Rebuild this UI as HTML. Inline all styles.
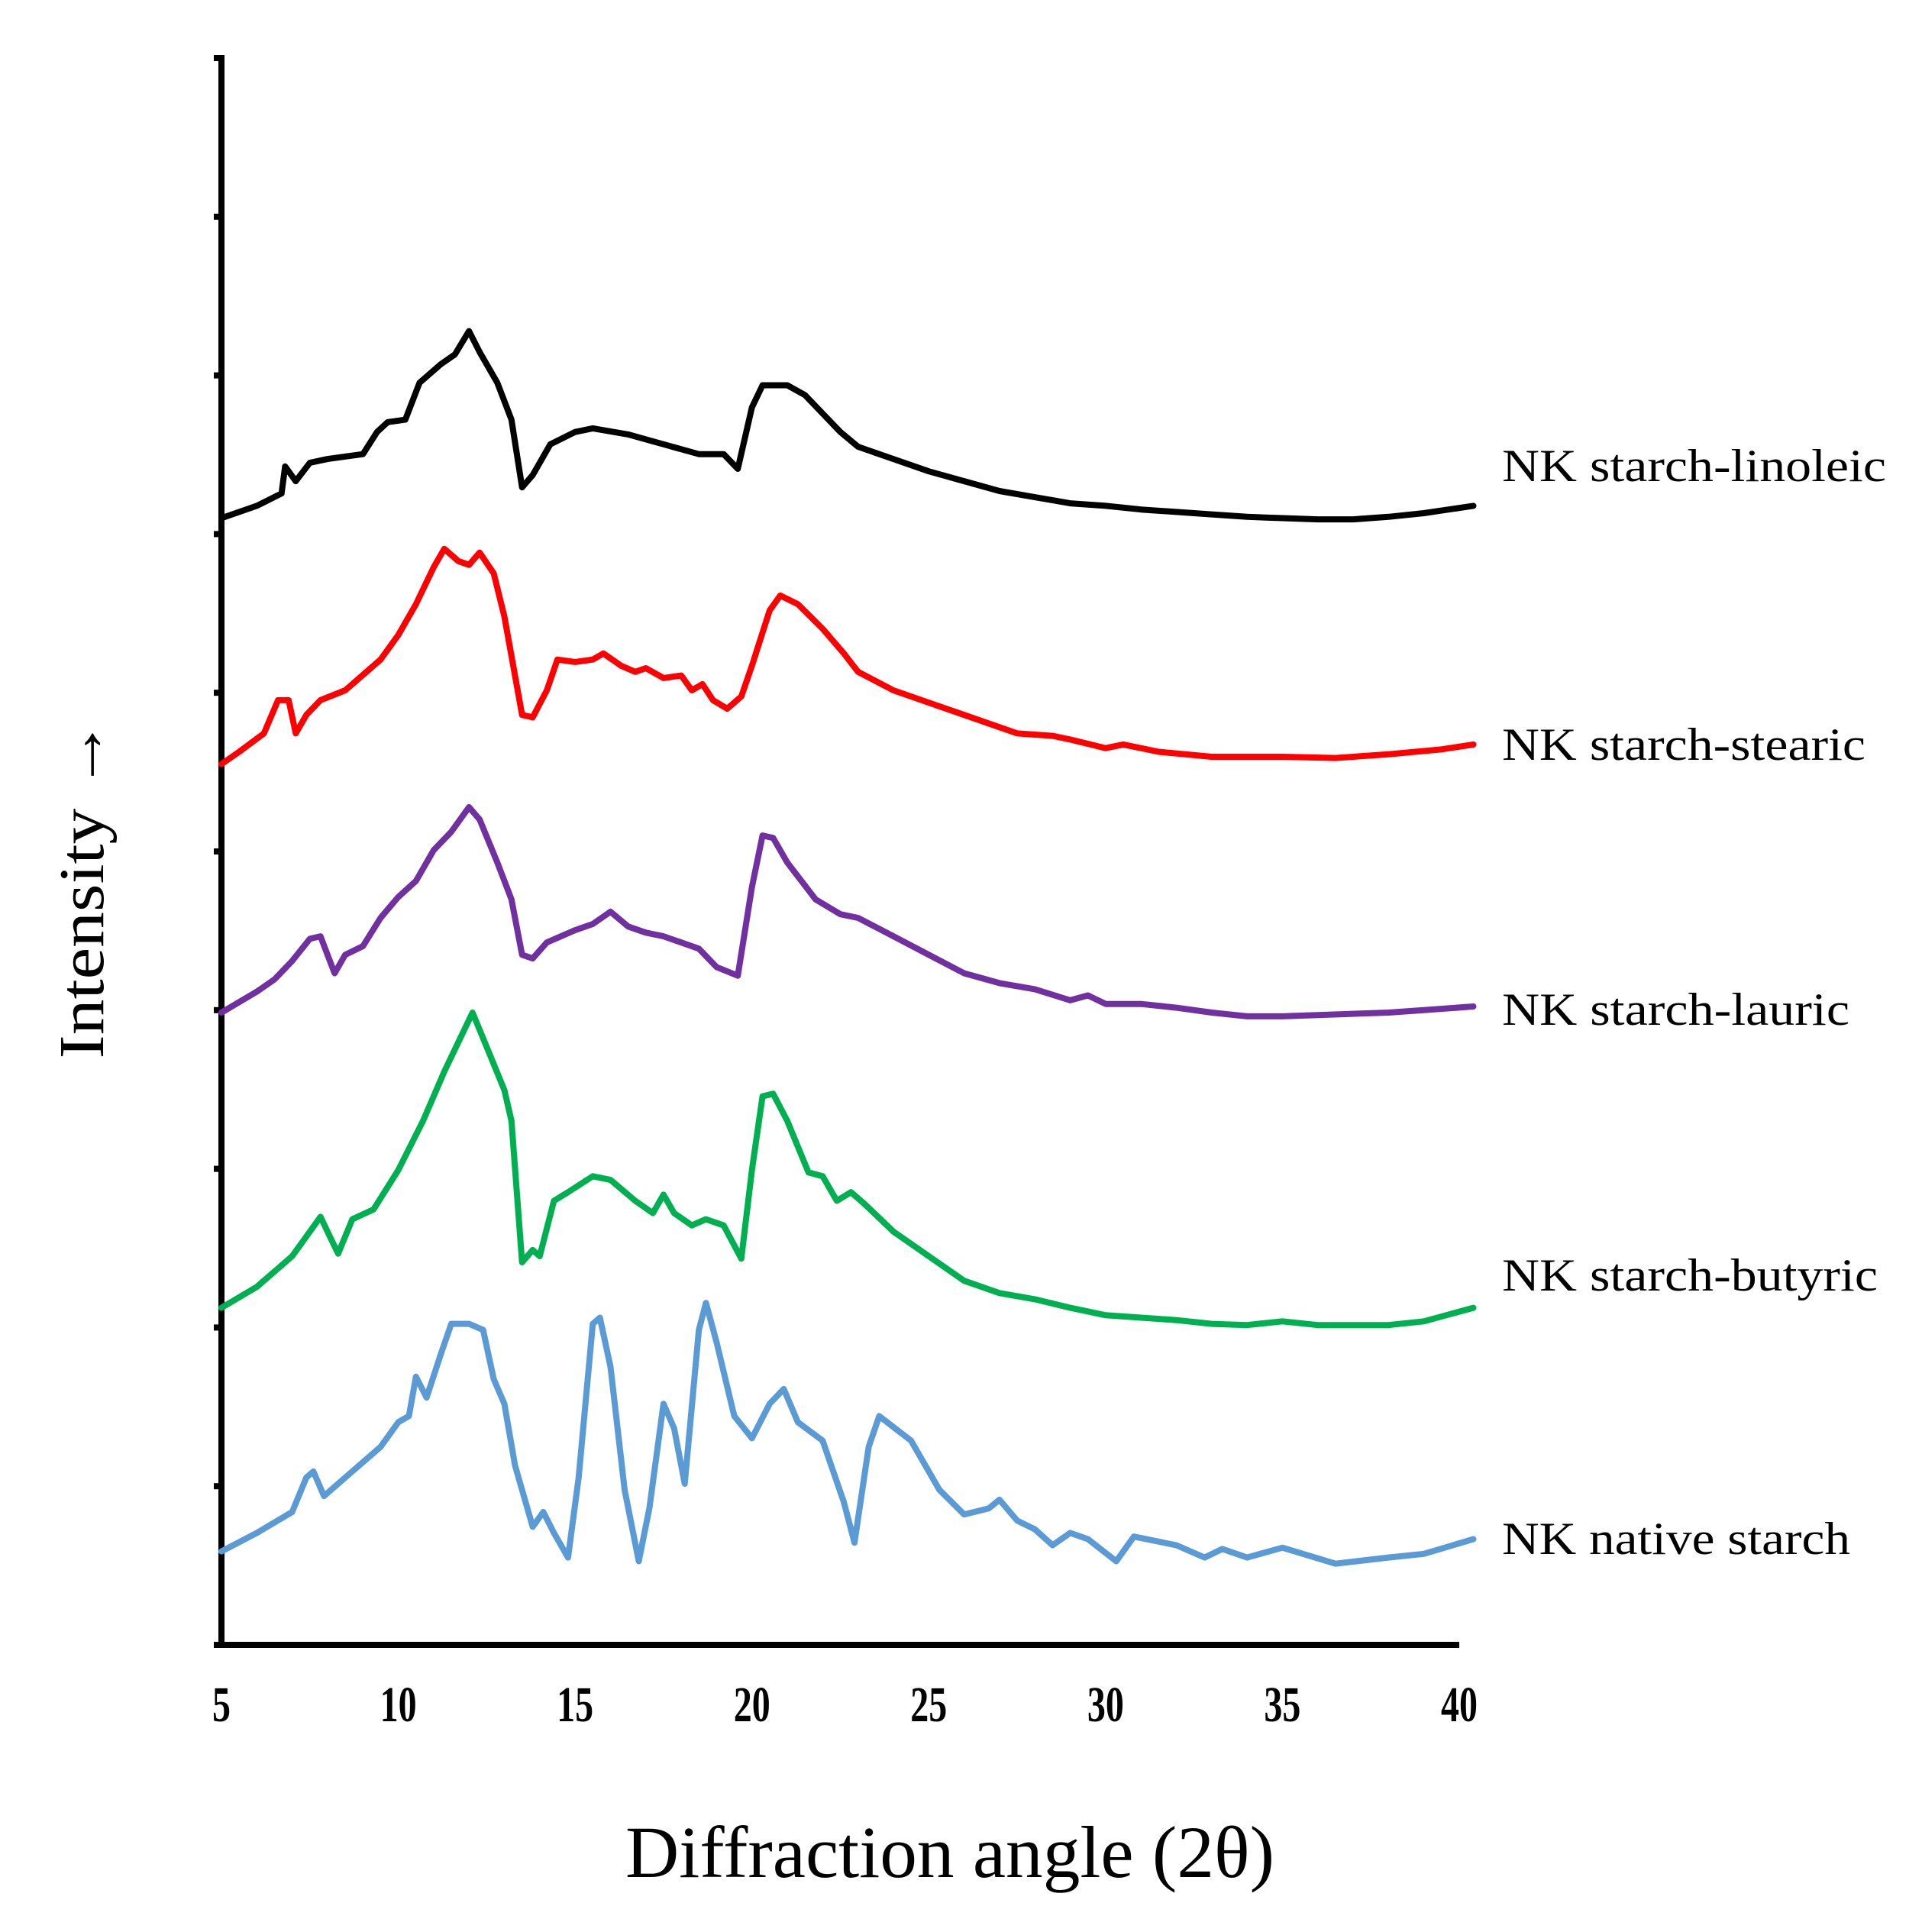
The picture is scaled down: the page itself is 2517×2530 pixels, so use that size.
<!DOCTYPE html>
<html><head><meta charset="utf-8"><style>html,body{margin:0;padding:0;background:#fff}svg{display:block}</style></head>
<body>
<svg id="chart" width="2517" height="2530" viewBox="0 0 2517 2530" xmlns="http://www.w3.org/2000/svg">
<rect width="2517" height="2530" fill="#fff"/>
<g id="axes"></g>
<g id="series"></g>
<g id="labels"></g>
<text transform="translate(135,1164) rotate(-90)" text-anchor="middle" font-family="Liberation Serif, serif" font-size="84" textLength="445" lengthAdjust="spacingAndGlyphs" fill="#000">Intensity →</text>
<text x="1244" y="2458" text-anchor="middle" font-family="Liberation Serif, serif" font-size="96" textLength="850" lengthAdjust="spacingAndGlyphs" fill="#000">Diffraction angle (2θ)</text>
</svg>
<script>
const xTicks = [5,10,15,20,25,30,35,40];
const yTickCount = 11;
const seriesNames = ["NK starch-linoleic","NK starch-stearic","NK starch-lauric","NK starch-butyric","NK native starch"];
const linoleicTheta = [5,6,6.7,6.8,7.1,7.5,8,9,9.4,9.7,10.2,10.6,11.2,11.6,12,12.3,12.8,13.2,13.5,13.8,14.3,15,15.5,16.5,17.5,18.5,19.2,19.6,20,20.3,21,21.5,22,22.5,23,24,25,26,27,28,29,30,31,32,33,34,35,36,37,38,39,40.4];
const linoleicVal = [916,926,936,958,946,961,964,968,986,994,996,1026,1041,1049,1068,1051,1026,996,941,951,976,986,989,984,976,968,968,956,1006,1024,1024,1016,1001,986,974,964,954,946,938,933,928,926,923,921,919,917,916,915,915,917,920,926];
const stearicTheta = [5,5.5,6.2,6.6,6.9,7.1,7.4,7.8,8.5,9.5,10,10.5,11,11.3,11.7,12,12.3,12.7,13,13.5,13.8,14.2,14.5,15,15.5,15.8,16.3,16.7,17,17.5,18,18.3,18.6,18.9,19.3,19.7,20,20.5,20.8,21.3,22,22.6,23,24,25,26,27,27.5,28.5,29,30,30.5,31.5,33,35,36.5,38,39.5,40.4];
const stearicVal = [716,726,741,768,768,741,756,768,776,801,821,846,876,891,881,878,888,871,836,756,754,776,801,799,801,806,796,791,794,786,788,776,781,768,761,771,796,841,853,846,826,806,791,776,766,756,746,741,739,736,729,732,726,722,722,721,724,728,732];
const lauricTheta = [5,6,6.5,7,7.5,7.8,8,8.2,8.5,9,9.5,10,10.5,11,11.5,12,12.3,12.8,13.2,13.5,13.8,14.2,15,15.5,16,16.5,17,17.5,18,18.5,19,19.6,20,20.3,20.6,21,21.8,22.5,23,24,25,26,27,28,29,29.5,30,31,32,33,34,35,36,37,38,39,40.4];
const lauricVal = [514,531,541,556,574,576,561,546,561,568,591,608,621,646,661,681,671,636,606,561,558,571,581,586,596,584,579,576,571,566,551,544,616,658,656,636,606,594,591,576,561,546,538,533,524,528,521,521,518,514,511,511,512,513,514,516,519];
const butyricTheta = [5,6,7,7.5,7.8,8,8.3,8.7,9.3,10,10.7,11.3,11.8,12.1,12.5,13,13.2,13.5,13.8,14,14.4,14.8,15.5,16,16.7,17.2,17.5,17.8,18.3,18.7,19.2,19.7,20,20.3,20.6,21,21.6,22,22.4,22.8,23.2,24,25,26,27,28,29,30,31,32,33,34,35,36,38,39,40.4];
const butyricVal = [274,291,316,336,348,336,318,346,354,386,426,466,496,514,486,451,426,311,321,316,361,368,381,378,361,351,366,351,341,346,341,314,386,446,448,426,384,381,361,368,358,336,316,296,286,281,274,268,266,264,261,260,263,260,260,263,274];
const nativeTheta = [5,6,7,7.4,7.6,7.9,8.5,9.5,10,10.3,10.5,10.8,11.2,11.5,12,12.4,12.7,13,13.3,13.8,14.1,14.4,14.8,15.1,15.5,15.7,16,16.4,16.8,17.1,17.5,17.8,18.1,18.5,18.7,19,19.5,20,20.5,20.9,21.3,22,22.6,22.9,23.3,23.6,24.5,25.3,26,26.7,27,27.5,28,28.5,29,29.5,30.3,30.8,32,32.8,33.3,34,35,36.5,38,39,40.4];
const nativeVal = [76,91,108,136,141,121,136,161,181,186,218,201,236,261,261,256,216,196,146,96,108,91,71,136,261,266,226,126,68,111,196,176,131,256,278,246,186,168,196,208,181,166,116,83,161,186,166,126,106,111,118,101,94,81,91,86,68,88,81,71,78,71,79,66,71,74,86];

const NS = "http://www.w3.org/2000/svg";
const X0 = 290, X1 = 1911, Y0 = 2154, Y1 = 76, XMIN = 5, XMAX = 40, YMAX = 1290;
function xS(t){ return X0 + (t - XMIN) * (X1 - X0) / (XMAX - XMIN); }
function yS(v){ return Y0 - v * (Y0 - Y1) / YMAX; }
function mk(tag, attrs, parent){ const e = document.createElementNS(NS, tag); for (const k in attrs) e.setAttribute(k, attrs[k]); parent.appendChild(e); return e; }

const axes = document.getElementById('axes');
const yAxis = mk('line', {x1:X0, y1:Y1-4, x2:X0, y2:Y0+4, stroke:'#000', 'stroke-width':8}, axes);


const xAxis = mk('line', {x1:X0-4, y1:Y0, x2:X1, y2:Y0, stroke:'#000', 'stroke-width':8}, axes);


for (let i = 0; i < yTickCount; i++) {
  const v = i * YMAX / (yTickCount - 1);
  const t = mk('line', {x1:X0-10, y1:yS(v), x2:X0, y2:yS(v), stroke:'#000', 'stroke-width':8}, axes);
  
  
}
xTicks.forEach(function(v){
  const s = String(v);
  const t = mk('text', {x:xS(v), y:2254, 'text-anchor':'middle', 'font-family':'Liberation Serif, serif', 'font-weight':'bold', 'font-size':66, textLength:(s.length*24), lengthAdjust:'spacingAndGlyphs', fill:'#000'}, axes);
  t.textContent = s;
  
  
});

const seriesDefs = [
  {th: linoleicTheta, v: linoleicVal, c: '#000000', name: 'linoleic-line', ly: 630, lw: 503},
  {th: stearicTheta, v: stearicVal, c: '#ff0000', name: 'stearic-line', ly: 995, lw: 476},
  {th: lauricTheta, v: lauricVal, c: '#7030a0', name: 'lauric-line', ly: 1342, lw: 455},
  {th: butyricTheta, v: butyricVal, c: '#00b050', name: 'butyric-line', ly: 1690, lw: 492},
  {th: nativeTheta, v: nativeVal, c: '#5b9bd5', name: 'native-line', ly: 2035, lw: 456}
];
const sg = document.getElementById('series');
const lg = document.getElementById('labels');
seriesDefs.forEach(function(s, i){
  const d = s.th.map(function(t, j){ return (j ? 'L' : 'M') + xS(t).toFixed(1) + ' ' + yS(s.v[j]).toFixed(1); }).join(' ');
  const p = mk('path', {d: d, fill: 'none', stroke: s.c, 'stroke-width': 8, 'stroke-linejoin': 'round', 'stroke-linecap': 'round'}, sg);
  
  
  const t = mk('text', {x: 1967, y: s.ly, 'font-family': 'Liberation Serif, serif', 'font-size': 60, textLength: s.lw, lengthAdjust: 'spacingAndGlyphs', fill: '#000'}, lg);
  t.textContent = seriesNames[i];
  
  
});
</script>
</body></html>
